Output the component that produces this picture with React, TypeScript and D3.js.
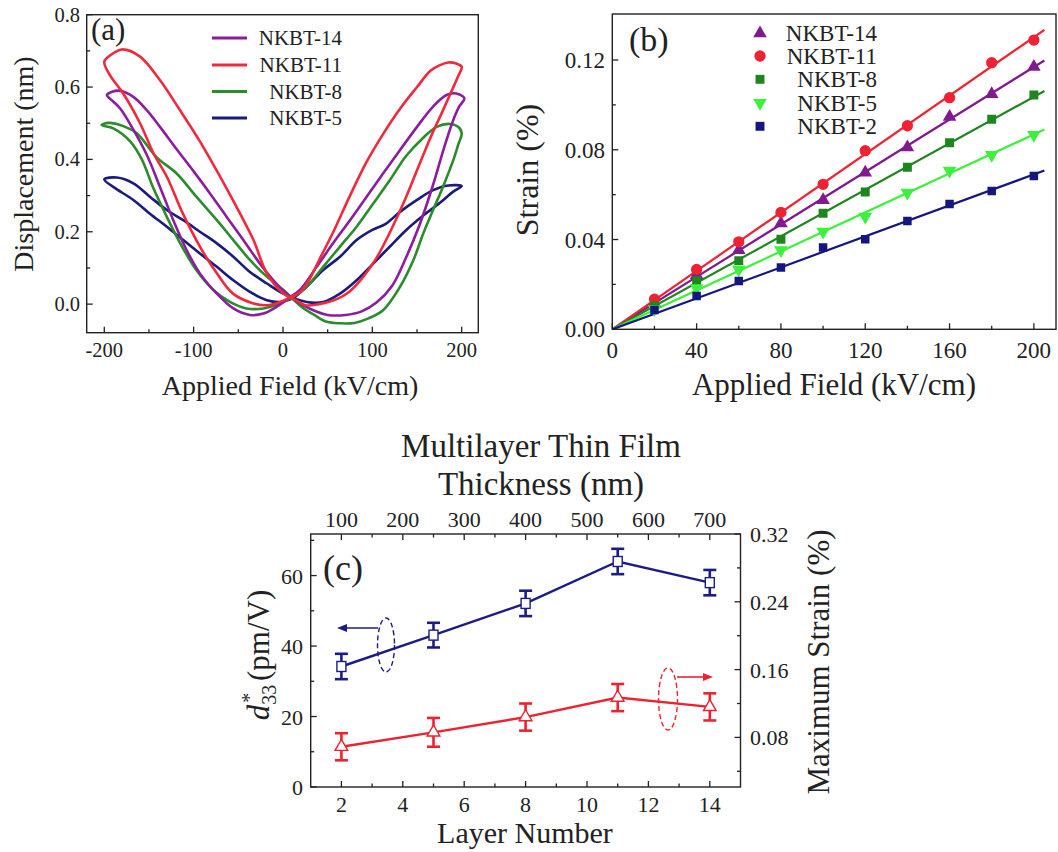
import React from 'react';
import * as d3 from 'd3';

const FONT = "'Liberation Serif','Times New Roman',Times,serif";
const INK = '#222';

// ---------------- (a) displacement butterfly loops ----------------
const seriesA = ['NKBT-14', 'NKBT-11', 'NKBT-8', 'NKBT-5'];
const colorsA = ['#8c1d9e', '#f02a3c', '#2b8c2b', '#1b1b7e'];

const loop14: [number, number][] = [
  [8, 0.02], [19, 0.039], [37.7, 0.103], [56, 0.168], [75, 0.232], [93.6, 0.297], [112, 0.361], [131, 0.426],
  [150, 0.49], [168, 0.546], [183, 0.578], [194, 0.582], [203, 0.569],
  [197, 0.545], [190, 0.505], [180, 0.43], [168, 0.33], [153, 0.22], [138, 0.13], [122, 0.05], [105, 0.005],
  [88, -0.02], [70, -0.03], [50, -0.03], [32, -0.015], [15, 0.008],
  [4, 0.029], [-10.8, 0.066], [-25.8, 0.112], [-44.4, 0.177], [-63, 0.241], [-81.7, 0.306], [-100, 0.367],
  [-119, 0.428], [-137.7, 0.49], [-152.5, 0.536], [-167.5, 0.573], [-184, 0.59], [-197, 0.578],
  [-190, 0.56], [-182, 0.54], [-167, 0.48], [-152, 0.41], [-137.7, 0.324], [-122.8, 0.232], [-107.8, 0.149],
  [-93, 0.085], [-74, 0.029], [-55.6, -0.012], [-37, -0.03], [-22, -0.026], [-7, -0.007], [8, 0.02],
];
const loop11: [number, number][] = [
  [9, 0.02], [20, 0.035], [30, 0.07], [40, 0.12], [56, 0.198], [75, 0.3], [94, 0.395], [112, 0.47], [131, 0.54],
  [150, 0.6], [165, 0.645], [175, 0.66], [185, 0.668], [194, 0.665], [200, 0.656],
  [196, 0.63], [188, 0.585], [178, 0.53], [165, 0.46], [150, 0.37], [135, 0.28], [120, 0.2], [104, 0.125],
  [88, 0.07], [72, 0.03], [56, 0.01], [40, 0.0], [25, -0.003], [15, 0.01],
  [0, 0.03], [-18, 0.085], [-33, 0.177], [-48, 0.25], [-71, 0.355], [-93, 0.45], [-115, 0.535], [-138, 0.62],
  [-160, 0.684], [-180, 0.704], [-192, 0.69], [-200, 0.67],
  [-193, 0.63], [-179, 0.583], [-160, 0.5], [-145, 0.417], [-130, 0.352], [-112, 0.25], [-93, 0.159],
  [-74, 0.085], [-56, 0.029], [-33, 0.002], [-18, -0.003], [-3, 0.006], [9, 0.02],
];
const loop8: [number, number][] = [
  [11.5, 0.02], [26.5, 0.048], [45, 0.103], [63.8, 0.159], [82.4, 0.214], [101, 0.278], [119.7, 0.343],
  [138, 0.41], [157, 0.46], [172, 0.49], [187, 0.498], [196, 0.49], [200, 0.472],
  [196, 0.44], [190.6, 0.398], [179, 0.324], [168, 0.26], [157, 0.195], [146, 0.122], [131, 0.048],
  [112, -0.017], [95, -0.04], [80, -0.052], [64, -0.053], [49, -0.049], [35, -0.03], [22, -0.01],
  [0.4, 0.039], [-18, 0.076], [-37, 0.122], [-55.6, 0.177], [-74, 0.232], [-97, 0.297], [-119, 0.361],
  [-141, 0.405], [-163.7, 0.472], [-178.7, 0.492], [-195.5, 0.501], [-203, 0.495],
  [-190, 0.486], [-171, 0.45], [-158, 0.4], [-145, 0.32], [-130, 0.241], [-115, 0.168], [-97, 0.094],
  [-78, 0.039], [-59.4, 0.006], [-41, -0.012], [-22, -0.012], [-3.4, 0.002], [11.5, 0.02],
];
const loop5: [number, number][] = [
  [11.5, 0.016], [26.5, 0.048], [45, 0.094], [63.8, 0.131], [82.4, 0.177], [100, 0.205], [115, 0.222],
  [131, 0.255], [150, 0.288], [168, 0.315], [185, 0.328], [200, 0.326],
  [190.6, 0.311], [175.7, 0.28], [157, 0.245], [138, 0.205], [120, 0.16], [101, 0.112], [82.4, 0.066],
  [63.8, 0.029], [45, 0.006], [26.5, 0.006],
  [0.4, 0.029], [-18, 0.057], [-37, 0.089], [-55.6, 0.131], [-74, 0.168], [-93, 0.2], [-111.6, 0.232],
  [-130, 0.26], [-149, 0.297], [-167.5, 0.334], [-186, 0.35], [-200, 0.345],
  [-190, 0.324], [-167.5, 0.288], [-149, 0.25], [-130, 0.214], [-111.6, 0.177], [-93, 0.14], [-74, 0.103],
  [-55.6, 0.066], [-37, 0.034], [-18, 0.011], [-3, 0.006], [11.5, 0.016],
];
const loopsA = [loop14, loop11, loop8, loop5];
const drawOrderA = [3, 2, 0, 1];
const xTicksA = [-200, -100, 0, 100, 200];
const xMinorA = [-150, -50, 50, 150];
const yTicksA = [0, 0.2, 0.4, 0.6, 0.8];
const yMinorA = [0.1, 0.3, 0.5, 0.7];

// ---------------- (b) strain vs field ----------------
const fieldB = [20, 40, 60, 80, 100, 120, 140, 160, 180, 200];
const seriesB = ['NKBT-14', 'NKBT-11', 'NKBT-8', 'NKBT-5', 'NKBT-2'];
const colorsB = ['#7f1a8f', '#ee2233', '#1f861f', '#3cf03c', '#161680'];
const symbolsB = ['triangle', 'circle', 'square', 'triangleDown', 'square'];
const strain14 = [0.0116, 0.0242, 0.0353, 0.0472, 0.0576, 0.0698, 0.0811, 0.0947, 0.1048, 0.117];
const strain11 = [0.0134, 0.0267, 0.039, 0.0521, 0.0646, 0.0796, 0.0907, 0.1032, 0.1188, 0.1289];
const strain8 = [0.0105, 0.0217, 0.0306, 0.0401, 0.0517, 0.0612, 0.0722, 0.0831, 0.0936, 0.1044];
const strain5 = [0.009, 0.0183, 0.0267, 0.0353, 0.0435, 0.0502, 0.0609, 0.0707, 0.0777, 0.0866];
const strain2 = [0.0086, 0.0148, 0.0215, 0.0275, 0.0364, 0.0401, 0.0483, 0.0558, 0.0616, 0.0683];
const strainsB = [strain14, strain11, strain8, strain5, strain2];
const xTicksB = [0, 40, 80, 120, 160, 200];
const xMinorB = [20, 60, 100, 140, 180];
const yTicksB = [0, 0.04, 0.08, 0.12];
const yMinorB = [0.02, 0.06, 0.1];

// ---------------- (c) d33* and max strain vs layers ----------------
const layersC = [2, 5, 8, 11, 14];
const d33C = [34.2, 43.1, 52.1, 64.0, 58.0];
const d33ErrC = [3.6, 3.5, 3.6, 3.6, 3.6];
const maxStrainC = [0.069, 0.086, 0.104, 0.127, 0.116];
const strainErrC = [0.016, 0.017, 0.016, 0.016, 0.016];
const xTicksC = [2, 4, 6, 8, 10, 12, 14];
const xMinorC = [3, 5, 7, 9, 11, 13];
const topTicksC = [100, 200, 300, 400, 500, 600, 700];
const topMinorC = [150, 250, 350, 450, 550, 650];
const yLTicksC = [0, 20, 40, 60];
const yLMinorC = [10, 30, 50, 70];
const yRTicksC = [0.08, 0.16, 0.24, 0.32];
const yRMinorC = [0.04, 0.12, 0.2, 0.28];

function symbolPath(kind: string, size: number) {
  const t = kind === 'circle' ? d3.symbolCircle : kind === 'square' ? d3.symbolSquare : d3.symbolTriangle;
  return d3.symbol().type(t).size(size)() as string;
}

function Frame({ x0, x1, y0, y1 }: any) {
  return <rect x={x0} y={y0} width={x1 - x0} height={y1 - y0} fill="none" stroke={INK} strokeWidth={1.4} />;
}

function XTicks({ scale, vals, y, len, dir }: any) {
  return (
    <g>
      {vals.map((v: number, i: number) => (
        <line key={i} x1={scale(v)} x2={scale(v)} y1={y} y2={y + dir * len} stroke={INK} strokeWidth={1.3} />
      ))}
    </g>
  );
}
function YTicks({ scale, vals, x, len, dir }: any) {
  return (
    <g>
      {vals.map((v: number, i: number) => (
        <line key={i} y1={scale(v)} y2={scale(v)} x1={x} x2={x + dir * len} stroke={INK} strokeWidth={1.3} />
      ))}
    </g>
  );
}

export default function App() {
  // ---- panel a scales
  const xA = d3.scaleLinear().domain([-219.7, 218.6]).range([86.7, 478.3]);
  const yA = d3.scaleLinear().domain([-0.079, 0.8]).range([332.7, 14.7]);
  const lineA = d3
    .line<[number, number]>()
    .x((d) => xA(d[0]))
    .y((d) => yA(d[1]))
    .curve(d3.curveCatmullRom.alpha(0.5));

  // ---- panel b scales
  const xB = d3.scaleLinear().domain([0, 210.5]).range([612.3, 1056]);
  const yB = d3.scaleLinear().domain([0, 0.1405]).range([329.3, 14]);
  const fitEnd = 205;

  // ---- panel c scales
  const xC = d3.scaleLinear().domain([1, 15]).range([310.7, 740.5]);
  const xTopC = d3.scaleLinear().domain([50, 750]).range([310.7, 740.5]);
  const yCL = d3.scaleLinear().domain([0, 71.8]).range([787, 534]);
  const yCR = d3.scaleLinear().domain([0.0215, 0.32]).range([787, 534]);
  const blueC = '#1c1c86';
  const redC = '#ec2230';
  const lineCL = d3
    .line<number>()
    .x((_, i) => xC(layersC[i]))
    .y((d) => yCL(d));
  const lineCR = d3
    .line<number>()
    .x((_, i) => xC(layersC[i]))
    .y((d) => yCR(d));

  const legendRowsA = [38, 65, 91.5, 118];
  const legendRowsB = [33.3, 56, 79.3, 102.8, 126.3];

  return (
    <div style={{ position: 'absolute', left: 0, top: 0, width: 1058, height: 852, background: '#fff' }}>
      <svg width={1058} height={852} style={{ display: 'block', fontFamily: FONT }}>
        <rect x={0} y={0} width={1058} height={852} fill="#fff" />
        <defs>
          <clipPath id="clipA">
            <rect x={86.7} y={14.7} width={478.3 - 86.7} height={332.7 - 14.7} />
          </clipPath>
          <clipPath id="clipB">
            <rect x={612.3} y={14} width={1056 - 612.3} height={329.3 - 14} />
          </clipPath>
        </defs>

        {/* ================= Panel (a) ================= */}
        <g>
          <g clipPath="url(#clipA)">
            {drawOrderA.map((i) => (
              <path key={i} d={lineA(loopsA[i]) as string} fill="none" stroke={colorsA[i]} strokeWidth={2.6}
                strokeLinejoin="round" />
            ))}
          </g>
          <Frame x0={86.7} x1={478.3} y0={14.7} y1={332.7} />
          <XTicks scale={xA} vals={xTicksA} y={332.7} len={6} dir={-1} />
          <XTicks scale={xA} vals={xMinorA} y={332.7} len={3.5} dir={-1} />
          <YTicks scale={yA} vals={yTicksA} x={86.7} len={6} dir={1} />
          <YTicks scale={yA} vals={yMinorA} x={86.7} len={3.5} dir={1} />
          {xTicksA.map((v) => (
            <text key={v} x={xA(v)} y={357} fontSize={20.5} textAnchor="middle" fill={INK}>
              {v}
            </text>
          ))}
          {yTicksA.map((v) => (
            <text key={v} x={80} y={yA(v) + 7} fontSize={20.5} textAnchor="end" fill={INK}>
              {v.toFixed(1)}
            </text>
          ))}
          <text x={290} y={395} fontSize={28} textAnchor="middle" fill={INK}>
            Applied Field (kV/cm)
          </text>
          <text transform="translate(33,164) rotate(-90)" fontSize={28} textAnchor="middle" fill={INK}>
            Displacement (nm)
          </text>
          <text x={91} y={39.5} fontSize={31} fill={INK}>
            (a)
          </text>
          {seriesA.map((s, i) => (
            <g key={s}>
              <line x1={212} x2={247} y1={legendRowsA[i]} y2={legendRowsA[i]} stroke={colorsA[i]} strokeWidth={3} />
              <text x={342} y={legendRowsA[i] + 7} fontSize={21} textAnchor="end" fill={INK}>
                {s}
              </text>
            </g>
          ))}
        </g>

        {/* ================= Panel (b) ================= */}
        <g>
          <g clipPath="url(#clipB)">
            {strainsB.map((vals, si) => {
              const k = d3.sum(vals, (v, i) => v * fieldB[i]) / d3.sum(fieldB, (f) => f * f);
              return (
                <line key={'fit' + si} x1={xB(0)} y1={yB(0)} x2={xB(fitEnd)} y2={yB(k * fitEnd)}
                  stroke={colorsB[si]} strokeWidth={2.2} />
              );
            })}
            {strainsB.map((vals, si) =>
              vals.map((v, i) => (
                <path key={si + '-' + i}
                  d={symbolPath(symbolsB[si], symbolsB[si] === 'circle' ? 100 : si === 4 ? 72 : 80)}
                  transform={`translate(${xB(fieldB[i])},${yB(v)})${symbolsB[si] === 'triangleDown' ? ' rotate(180)' : ''}`}
                  fill={colorsB[si]} />
              ))
            )}
          </g>
          <Frame x0={612.3} x1={1056} y0={14} y1={329.3} />
          <XTicks scale={xB} vals={xTicksB} y={329.3} len={6} dir={-1} />
          <XTicks scale={xB} vals={xMinorB} y={329.3} len={3.5} dir={-1} />
          <YTicks scale={yB} vals={yTicksB} x={612.3} len={6} dir={1} />
          <YTicks scale={yB} vals={yMinorB} x={612.3} len={3.5} dir={1} />
          {xTicksB.map((v) => (
            <text key={v} x={xB(v)} y={358} fontSize={23} textAnchor="middle" fill={INK}>
              {v}
            </text>
          ))}
          {yTicksB.map((v) => (
            <text key={v} x={605} y={yB(v) + 8} fontSize={23} textAnchor="end" fill={INK}>
              {v.toFixed(2)}
            </text>
          ))}
          <text x={834} y={395} fontSize={31} textAnchor="middle" fill={INK}>
            Applied Field (kV/cm)
          </text>
          <text transform="translate(538,170) rotate(-90)" fontSize={32} textAnchor="middle" fill={INK}>
            Strain (%)
          </text>
          <text x={629} y={50.5} fontSize={34} fill={INK}>
            (b)
          </text>
          {seriesB.map((s, i) => (
            <g key={s}>
              <path d={symbolPath(symbolsB[i], symbolsB[i] === 'circle' ? 100 : 80)}
                transform={`translate(760,${legendRowsB[i]})${symbolsB[i] === 'triangleDown' ? ' rotate(180)' : ''}`}
                fill={colorsB[i]} />
              <text x={877} y={legendRowsB[i] + 8} fontSize={23} textAnchor="end" fill={INK}>
                {s}
              </text>
            </g>
          ))}
        </g>

        {/* ================= Panel (c) ================= */}
        <g>
          <path d={lineCL(d33C) as string} fill="none" stroke={blueC} strokeWidth={2.4} />
          <path d={lineCR(maxStrainC) as string} fill="none" stroke={redC} strokeWidth={2.4} />
          {layersC.map((L, i) => {
            const x = xC(L);
            const t = yCL(d33C[i] + d33ErrC[i]);
            const b = yCL(d33C[i] - d33ErrC[i]);
            return (
              <g key={'bl' + L} stroke={blueC} strokeWidth={2.6}>
                <line x1={x} x2={x} y1={t} y2={b} />
                <line x1={x - 6.5} x2={x + 6.5} y1={t} y2={t} />
                <line x1={x - 6.5} x2={x + 6.5} y1={b} y2={b} />
              </g>
            );
          })}
          {layersC.map((L, i) => {
            const x = xC(L);
            const t = yCR(maxStrainC[i] + strainErrC[i]);
            const b = yCR(maxStrainC[i] - strainErrC[i]);
            return (
              <g key={'rl' + L} stroke={redC} strokeWidth={2.6}>
                <line x1={x} x2={x} y1={t} y2={b} />
                <line x1={x - 6.5} x2={x + 6.5} y1={t} y2={t} />
                <line x1={x - 6.5} x2={x + 6.5} y1={b} y2={b} />
              </g>
            );
          })}
          {layersC.map((L, i) => (
            <rect key={'sq' + L} x={xC(L) - 4.5} y={yCL(d33C[i]) - 5} width={9} height={10} fill="#fff"
              stroke={blueC} strokeWidth={1.4} />
          ))}
          {layersC.map((L, i) => (
            <path key={'tr' + L} d={symbolPath('triangle', 70)}
              transform={`translate(${xC(L)},${yCR(maxStrainC[i])})`} fill="#fff" stroke={redC} strokeWidth={1.4} />
          ))}

          {/* annotations */}
          <ellipse cx={386} cy={645} rx={8.5} ry={27} fill="none" stroke={blueC} strokeWidth={1.4}
            strokeDasharray="5,3" />
          <line x1={378} x2={344} y1={628} y2={628} stroke={blueC} strokeWidth={1.6} />
          <path d="M337,628 L347,624 L347,632 Z" fill={blueC} />
          <ellipse cx={668} cy={699} rx={9.5} ry={31} fill="none" stroke={redC} strokeWidth={1.4}
            strokeDasharray="5,3" />
          <line x1={677} x2={705} y1={677} y2={677} stroke={redC} strokeWidth={1.6} />
          <path d="M713,677 L703,673 L703,681 Z" fill={redC} />

          <Frame x0={310.7} x1={740.5} y0={534} y1={787} />
          <XTicks scale={xC} vals={xTicksC} y={787} len={6} dir={-1} />
          <XTicks scale={xC} vals={xMinorC} y={787} len={3.5} dir={-1} />
          <XTicks scale={xTopC} vals={topTicksC} y={534} len={6} dir={1} />
          <XTicks scale={xTopC} vals={topMinorC} y={534} len={3.5} dir={1} />
          <YTicks scale={yCL} vals={yLTicksC} x={310.7} len={6} dir={1} />
          <YTicks scale={yCL} vals={yLMinorC} x={310.7} len={3.5} dir={1} />
          <YTicks scale={yCR} vals={yRTicksC} x={740.5} len={6} dir={-1} />
          <YTicks scale={yCR} vals={yRMinorC} x={740.5} len={3.5} dir={-1} />
          {xTicksC.map((v) => (
            <text key={v} x={xC(v)} y={812} fontSize={22} textAnchor="middle" fill={INK}>
              {v}
            </text>
          ))}
          {topTicksC.map((v) => (
            <text key={v} x={xTopC(v)} y={527} fontSize={22} textAnchor="middle" fill={INK}>
              {v}
            </text>
          ))}
          {yLTicksC.map((v) => (
            <text key={v} x={303} y={yCL(v) + 8} fontSize={22} textAnchor="end" fill={INK}>
              {v}
            </text>
          ))}
          {yRTicksC.map((v) => (
            <text key={v} x={750} y={yCR(v) + 8} fontSize={22} textAnchor="start" fill={INK}>
              {v.toFixed(2)}
            </text>
          ))}
          <text x={541} y={457} fontSize={33} textAnchor="middle" fill={INK}>
            Multilayer Thin Film
          </text>
          <text x={541} y={495} fontSize={33} textAnchor="middle" fill={INK}>
            Thickness (nm)
          </text>
          <text x={525} y={843} fontSize={30} textAnchor="middle" fill={INK}>
            Layer Number
          </text>
          <text transform="translate(829,662) rotate(-90)" fontSize={31} textAnchor="middle" fill={INK}>
            Maximum Strain (%)
          </text>
          <text transform="translate(269,655) rotate(-90)" fontSize={31} textAnchor="middle" fill={INK}>
            <tspan fontStyle="italic">d</tspan>
            <tspan fontSize={20} dy={7}>33</tspan>
            <tspan fontSize={20} dx={-18} dy={-20}>*</tspan>
            <tspan dx={4} dy={13}> (pm/V)</tspan>
          </text>
          <text x={323} y={580} fontSize={36} fill={INK}>
            (c)
          </text>
        </g>
      </svg>
    </div>
  );
}
